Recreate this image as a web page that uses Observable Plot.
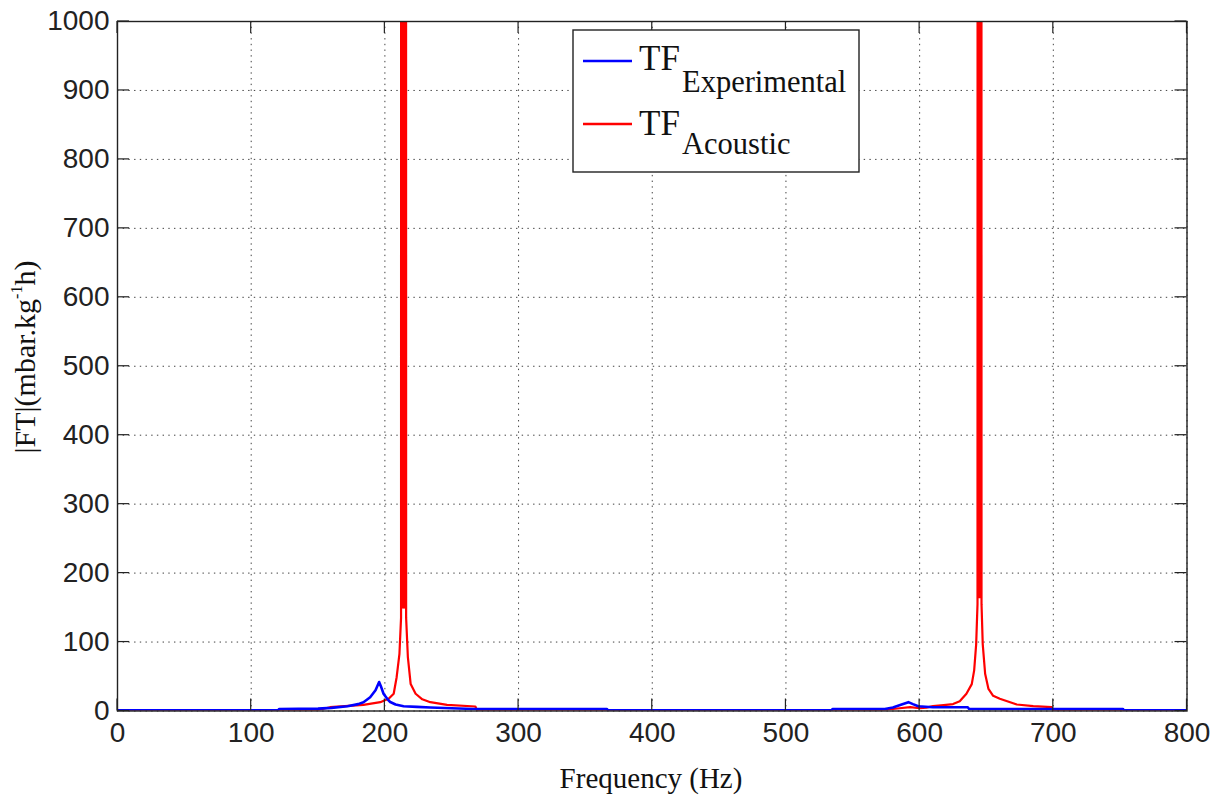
<!DOCTYPE html>
<html>
<head>
<meta charset="utf-8">
<script src="https://cdn.jsdelivr.net/npm/d3@7"></script>
<script src="https://cdn.jsdelivr.net/npm/@observablehq/plot@0.6"></script>
<style>
  html, body { margin: 0; padding: 0; background: #fff; }
  #chart { position: relative; width: 1221px; height: 798px; }
</style>
</head>
<body>
<div id="chart"></div>
<script>
// ---- data ----
const xTicks = [0, 100, 200, 300, 400, 500, 600, 700, 800];
const yTicks = [0, 100, 200, 300, 400, 500, 600, 700, 800, 900, 1000];

const seriesNames = ["TF", "TF"];
const seriesSubs = ["Experimental", "Acoustic"];

// TF Experimental (blue)
const expFreq = [0, 120, 121, 150, 160, 172, 180, 184, 189, 193, 195.7, 197, 199, 202, 204, 208, 214, 224, 234, 250, 266, 270, 366, 367, 534, 535, 574, 580, 586, 591.6, 595, 599, 610, 636, 637, 752, 753, 800];
const expMag  = [1, 1, 3, 3.5, 4.5, 7, 10, 12.8, 20, 30, 42, 36, 25, 17, 13, 9.5, 7, 6, 5, 4, 3, 3, 3, 1, 1, 3, 3, 5, 9, 12.8, 10, 7, 5.5, 5.5, 3, 3, 1, 1];

// TF Acoustic (red) - the two resonance peaks run far beyond the 1000 limit
const acFreq = [0, 140, 150, 159, 170, 184, 196.6, 203, 206.6, 208.8, 210.9, 212.1,
  212.4, 212.8, 213.2, 213.6, 214.0, 214.4, 214.8, 215.2, 215.6, 215.9,
  217.2, 219.3, 223, 228, 234, 246.5, 267.7, 269, 560,
  563, 575, 585, 593, 600, 605, 610, 618, 625, 630, 635, 639, 640.8, 642.3, 643.3,
  643.6, 644.0, 644.4, 644.8, 645.2, 645.6, 646.0, 646.3,
  647.2, 649, 651.5, 655, 660, 672.7, 685, 698.8, 700, 800];
const acMag = [0, 0.5, 1.5, 5.5, 7, 9, 12.8, 18, 25, 49, 83, 135,
  6000, 150, 6000, 150, 6000, 150, 6000, 150, 6000, 135,
  78, 39, 25, 17, 12.8, 9, 6.5, 0.5, 0,
  1, 2, 4, 5.5, 4, 5, 7, 8.5, 10, 14, 25, 39, 59, 97, 155,
  6000, 165, 6000, 165, 6000, 165, 6000, 155,
  97, 54, 32, 22, 17.7, 9.4, 7, 5.5, 0, 0];

const expData = expFreq.map((f, i) => ({f, v: expMag[i]}));
const acData = acFreq.map((f, i) => ({f, v: acMag[i]}));

// ---- layout ----
const W = 1221, H = 798;
const mL = 117, mR = 34.5, mT = 21, mB = 87.5;
const tickLen = 12;
const gridStyle = {stroke: "#000", strokeOpacity: 0.75, strokeDasharray: "1.4,4.3", strokeWidth: 1};

const svg = Plot.plot({
  width: W,
  height: H,
  marginLeft: mL, marginRight: mR, marginTop: mT, marginBottom: mB,
  style: {fontFamily: "'Liberation Sans', Arial, sans-serif", fontSize: "28px", color: "#222", background: "#fff"},
  x: {domain: [0, 800], ticks: xTicks, label: null},
  y: {domain: [0, 1000], ticks: yTicks, label: null},
  marks: [
    Plot.gridX(xTicks, gridStyle),
    Plot.gridY(yTicks, gridStyle),
    Plot.line(acData, {x: "f", y: "v", stroke: "#ff0000", strokeWidth: 2.2, clip: true}),
    Plot.line(expData, {x: "f", y: "v", stroke: "#0000ff", strokeWidth: 2.6, clip: true}),
    Plot.axisX({ticks: xTicks, tickSize: 0, tickPadding: 11, fill: "#222", tickFormat: d => String(d)}),
    Plot.axisY({ticks: yTicks, tickSize: 0, tickPadding: 8, fill: "#222", tickFormat: d => String(d)}),
    Plot.frame({stroke: "#222", strokeWidth: 1.4})
  ]
});

document.getElementById("chart").appendChild(svg);

const s = d3.select(svg);
const sx = svg.scale("x"), sy = svg.scale("y");
const x0 = sx.apply(0), x1 = sx.apply(800), y0 = sy.apply(0), y1 = sy.apply(1000);

// ---- inward ticks on all four sides (positions from Plot's scales) ----
const tg = s.append("g").attr("stroke", "#222").attr("stroke-width", 1.2);
xTicks.forEach(t => {
  const px = sx.apply(t);
  tg.append("line").attr("x1", px).attr("x2", px).attr("y1", y0).attr("y2", y0 - tickLen);
  tg.append("line").attr("x1", px).attr("x2", px).attr("y1", y1).attr("y2", y1 + tickLen);
});
yTicks.forEach(t => {
  const py = sy.apply(t);
  tg.append("line").attr("x1", x0).attr("x2", x0 + tickLen).attr("y1", py).attr("y2", py);
  tg.append("line").attr("x1", x1).attr("x2", x1 - tickLen).attr("y1", py).attr("y2", py);
});

// ---- axis titles & legend (text with sub/superscripts) ----
const serif = "'Liberation Serif', 'Times New Roman', serif";

s.append("text")
  .attr("x", 651).attr("y", 788)
  .attr("text-anchor", "middle")
  .attr("font-family", serif).attr("font-size", 29).attr("fill", "#111")
  .text("Frequency (Hz)");

const yl = s.append("text")
  .attr("transform", "translate(35,357) rotate(-90)")
  .attr("text-anchor", "middle")
  .attr("font-family", serif).attr("font-size", 30).attr("fill", "#111");
yl.append("tspan").text("|FT|(mbar.kg");
yl.append("tspan").attr("font-size", 16).attr("dy", -13).text("-1");
yl.append("tspan").attr("dy", 13).text("h)");

const lg = s.append("g");
lg.append("rect")
  .attr("x", 573).attr("y", 30).attr("width", 286).attr("height", 142)
  .attr("fill", "#fff").attr("stroke", "#222").attr("stroke-width", 1.4);
const colors = ["#0000ff", "#ff0000"];
const lineY = [61, 124];
const mainBase = [70, 135];
const subBase = [91.5, 153.5];
seriesNames.forEach((name, i) => {
  lg.append("line")
    .attr("x1", 583).attr("x2", 632).attr("y1", lineY[i]).attr("y2", lineY[i])
    .attr("stroke", colors[i]).attr("stroke-width", 2.4);
  const t = lg.append("text")
    .attr("text-anchor", "start")
    .attr("font-family", serif).attr("fill", "#111");
  t.append("tspan").attr("x", 639).attr("y", mainBase[i]).attr("font-size", 35).text(name);
  t.append("tspan").attr("x", 682).attr("y", subBase[i]).attr("font-size", 30.5).text(seriesSubs[i]);
});
</script>
</body>
</html>
